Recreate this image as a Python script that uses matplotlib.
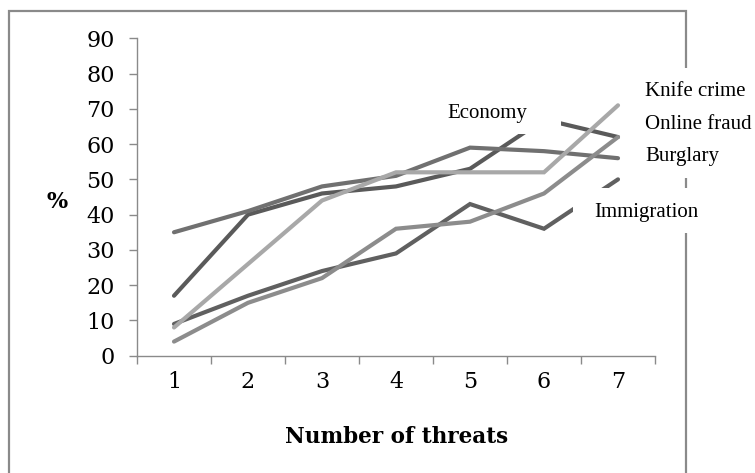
import matplotlib
matplotlib.use("Agg")
import matplotlib.pyplot as plt
from matplotlib.patches import Rectangle
import numpy as np

# ---- data ----
threats = [1, 2, 3, 4, 5, 6, 7]
economy = [17, 40, 46, 48, 53, 67, 62]
burglary = [35, 41, 48, 51, 59, 58, 56]
knife_crime = [8, 26, 44, 52, 52, 52, 71]
online_fraud = [4, 15, 22, 36, 38, 46, 62]
immigration = [9, 17, 24, 29, 43, 36, 50]
y_ticks = [0, 10, 20, 30, 40, 50, 60, 70, 80, 90]
x_label = "Number of threats"
y_label = "%"

W, H = 755, 473
fig = plt.figure(figsize=(W / 100, H / 100), dpi=100)

def fx(x):
    return x / W

def fy(y):
    return 1 - y / H

# outer chart frame
frame = Rectangle((fx(8.5), fy(490)), fx(686) - fx(8.5), fy(11) - fy(490),
                  transform=fig.transFigure, fill=False, edgecolor="#8a8a8a",
                  linewidth=1.6, clip_on=False, zorder=0)
fig.patches.append(frame)

ax = fig.add_axes([fx(137), fy(355.7), fx(655) - fx(137), fy(38.3) - fy(355.7)])
ax.set_facecolor("none")

series = [
    (economy, "#5a5a5a"),
    (burglary, "#707070"),
    (immigration, "#606060"),
    (online_fraud, "#8c8c8c"),
    (knife_crime, "#a8a8a8"),
]
for vals, col in series:
    ax.plot(threats, vals, color=col, linewidth=3.0, solid_capstyle="round",
            solid_joinstyle="miter", zorder=2, clip_on=False)

ax.set_xlim(0.5, 7.5)
ax.set_ylim(0, 90)
ax.set_yticks(y_ticks)
ax.set_yticklabels([str(v) for v in y_ticks])
ax.set_xticks(np.arange(0.5, 8, 1))
ax.set_xticklabels([])
ax.set_xticks(threats, minor=True)
ax.set_xticklabels([str(t) for t in threats], minor=True)

for s in ["top", "right"]:
    ax.spines[s].set_visible(False)
for s in ["left", "bottom"]:
    ax.spines[s].set_color("#8a8a8a")
    ax.spines[s].set_linewidth(1.0)

ax.tick_params(axis="y", which="major", direction="out", length=6, width=1,
               color="#8a8a8a", pad=10, labelsize=16, labelcolor="#000000")
ax.tick_params(axis="x", which="major", direction="out", length=6, width=1,
               color="#8a8a8a")
ax.tick_params(axis="x", which="minor", length=0, pad=11, labelsize=16,
               labelcolor="#000000")
for lab in ax.get_yticklabels() + ax.get_xticklabels(minor=True):
    lab.set_family("DejaVu Serif")

# axis titles
fig.text(fx(397), fy(437), x_label, ha="center", va="center",
         family="DejaVu Serif", fontweight="bold", fontsize=15.5, color="#000000")
fig.text(fx(57), fy(202), y_label, ha="center", va="center",
         family="DejaVu Serif", fontweight="bold", fontsize=16, color="#000000")

# white label boxes (occlude lines and frame)
boxes = [(426, 92, 561, 134), (622, 68, 755, 178), (573, 188, 722, 233)]
for x0, y0, x1, y1 in boxes:
    r = Rectangle((fx(x0), fy(y1)), fx(x1) - fx(x0), fy(y0) - fy(y1),
                  transform=fig.transFigure, facecolor="white",
                  edgecolor="none", zorder=5)
    fig.patches.append(r)

labels = [
    ("Economy", 447, 113),
    ("Knife crime", 645, 92),
    ("Online fraud", 645, 124),
    ("Burglary", 645, 157),
    ("Immigration", 594, 212),
]
for txt, x, y in labels:
    fig.text(fx(x), fy(y), txt, ha="left", va="center", family="Liberation Serif",
             fontsize=15, color="#000000", zorder=6)

fig.savefig("out.png", dpi=100, facecolor="white")
